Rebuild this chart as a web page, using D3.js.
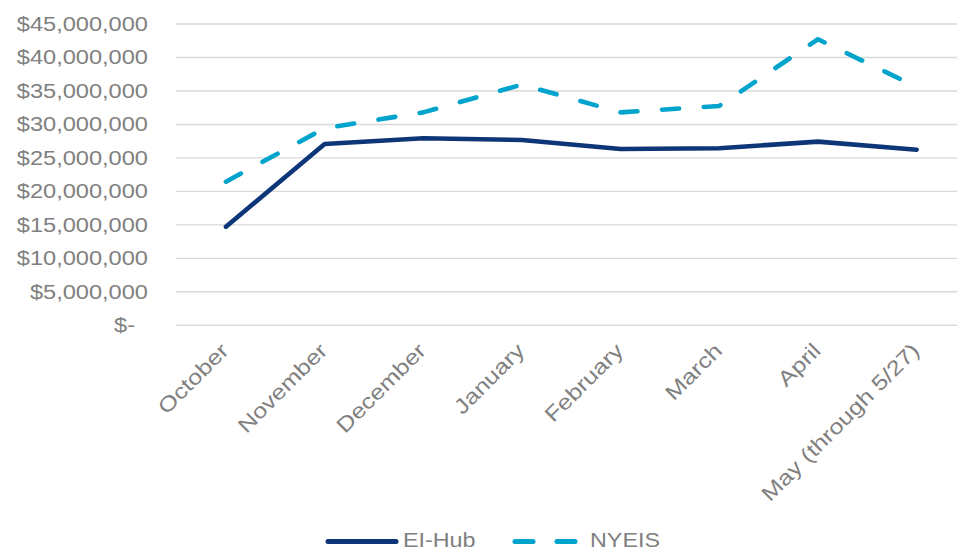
<!DOCTYPE html>
<html>
<head>
<meta charset="utf-8">
<script src="https://cdn.jsdelivr.net/npm/d3@7"></script>
<style>
  html, body { margin: 0; padding: 0; background: #fff; }
  svg { display: block; }
  text { font-family: "Liberation Sans", Arial, sans-serif; fill: #808080; }
</style>
</head>
<body>
<svg id="chart" width="957" height="549"></svg>
<script>
const categories = ["October", "November", "December", "January", "February", "March", "April", "May (through 5/27)"];
const eiHub = [14730000, 27080000, 27940000, 27680000, 26340000, 26440000, 27430000, 26230000];
const nyeis = [21450000, 29430000, 31800000, 35950000, 31800000, 32760000, 42720000, 35600000];
const yTicks = [0, 5000000, 10000000, 15000000, 20000000, 25000000, 30000000, 35000000, 40000000, 45000000];
const seriesNames = ["EI-Hub", "NYEIS"];

const svg = d3.select("#chart");

const x = d3.scalePoint().domain(categories).range([176.6, 966]).padding(0.5);
const y = d3.scaleLinear().domain([0, 45000000]).range([325.3, 24]);

function stretch(k) {
  return sel => sel.each(function () {
    const len = this.getComputedTextLength();
    d3.select(this).attr("textLength", len * k).attr("lengthAdjust", "spacingAndGlyphs");
  });
}

// gridlines
svg.append("g").selectAll("line").data(yTicks).join("line")
  .attr("x1", 176).attr("x2", 966)
  .attr("y1", d => y(d)).attr("y2", d => y(d))
  .attr("stroke", "#D9D9D9").attr("stroke-width", 1.4);

// y axis
const fmt = d => d === 0 ? "$-" : "$" + d3.format(",")(d);
const yAxis = svg.append("g").attr("transform", "translate(176,0)")
  .call(d3.axisLeft(y).tickValues(yTicks).tickFormat(fmt).tickSize(0).tickPadding(28));
yAxis.select(".domain").remove();
yAxis.selectAll("text")
  .style("font-size", "20px").attr("fill", "#808080")
  .style("font-family", '"Liberation Sans", Arial, sans-serif')
  .attr("x", d => d === 0 ? -41 : -28)
  .call(stretch(1.18));

// x labels
svg.append("g").selectAll("text").data(categories).join("text")
  .attr("transform", d => `translate(${x(d) + 4},352) rotate(-45)`)
  .attr("text-anchor", "end")
  .style("font-size", "21px")
  .text(d => d)
  .call(stretch(1.2));

// lines
const line = d3.line().x((d, i) => x(categories[i])).y(d => y(d));
svg.append("path").datum(nyeis)
  .attr("d", line).attr("fill", "none")
  .attr("stroke", "#00A3CC").attr("stroke-width", 4.6)
  .attr("stroke-dasharray", "17,24.7").attr("stroke-linecap", "round").attr("stroke-linejoin", "round");
svg.append("path").datum(eiHub)
  .attr("d", line).attr("fill", "none")
  .attr("stroke", "#0C3677").attr("stroke-width", 4.6)
  .attr("stroke-linecap", "round").attr("stroke-linejoin", "round");

// legend
const lg = svg.append("g");
const ly = 541.5;
lg.append("line").attr("x1", 328).attr("x2", 396).attr("y1", ly).attr("y2", ly)
  .attr("stroke", "#0C3677").attr("stroke-width", 5).attr("stroke-linecap", "round");
lg.append("text").attr("x", 403).attr("y", 546.5)
  .style("font-size", "21px").text(seriesNames[0]).call(stretch(1.11));
lg.append("line").attr("x1", 515).attr("x2", 577).attr("y1", ly).attr("y2", ly)
  .attr("stroke", "#00A3CC").attr("stroke-width", 5).attr("stroke-linecap", "round")
  .attr("stroke-dasharray", "18,24");
lg.append("text").attr("x", 590).attr("y", 546.5)
  .style("font-size", "21px").text(seriesNames[1]).call(stretch(1.11));
</script>
</body>
</html>
